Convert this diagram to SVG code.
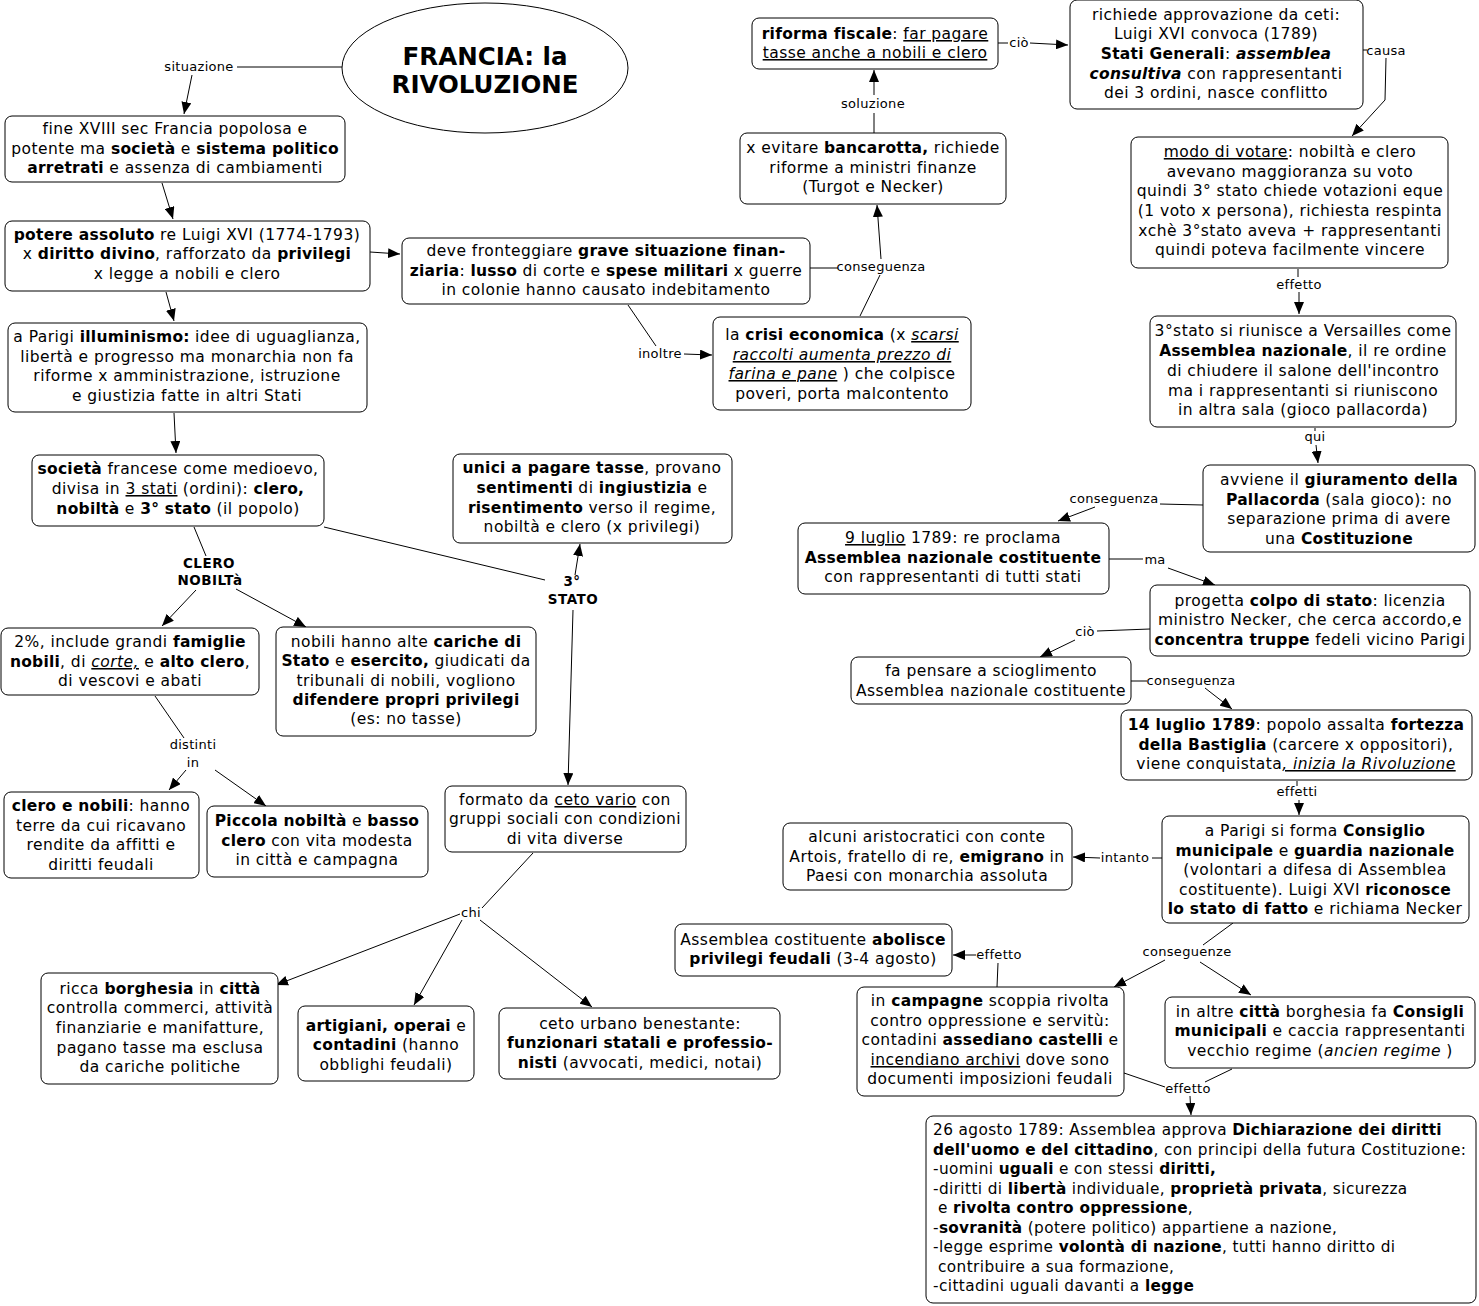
<svg xmlns="http://www.w3.org/2000/svg" width="1479" height="1306" viewBox="0 0 1479 1306">
<style>
.n rect{fill:#fff;stroke:#000;stroke-width:1}
text{font-family:"DejaVu Sans","Liberation Sans",sans-serif;font-size:15.5px;letter-spacing:0.45px;fill:#000}
.t text{text-anchor:middle}
.lt text{text-anchor:start;font-size:15.3px;letter-spacing:0.4px}
.b{font-weight:bold;letter-spacing:0.25px}
.i{font-style:italic}
.u{text-decoration:underline}
.lbl{font-size:13px;letter-spacing:0.3px;text-anchor:middle}
.lb{font-size:13.5px;letter-spacing:0.5px;text-anchor:middle;font-weight:bold}
.c line,.c polyline{stroke:#000;stroke-width:1;fill:none}
.a{marker-end:url(#ar)}
.title{font-size:24.5px;letter-spacing:0px;font-weight:bold;text-anchor:middle}
</style>
<defs>
<marker id="ar" viewBox="0 0 12 10" refX="12" refY="5" markerWidth="12" markerHeight="10" markerUnits="userSpaceOnUse" orient="auto">
<path d="M0,0 L12,5 L0,10 z" fill="#000"/>
</marker>
</defs>

<g class="c" id="connectors">
<line x1="342" y1="67" x2="237" y2="67"/>
<line class="a" x1="192" y1="75" x2="184" y2="114"/>
<line class="a" x1="162" y1="183" x2="173" y2="219"/>
<line class="a" x1="370" y1="252" x2="400" y2="254"/>
<line class="a" x1="166" y1="292" x2="174" y2="321"/>
<line class="a" x1="174" y1="413" x2="176" y2="453"/>
<line x1="628" y1="305" x2="656" y2="346"/>
<line class="a" x1="684" y1="354" x2="712" y2="355"/>
<line x1="810" y1="268" x2="838" y2="268"/>
<line x1="860" y1="316" x2="880" y2="275"/>
<line class="a" x1="881" y1="259" x2="877" y2="205"/>
<line x1="874" y1="133" x2="874" y2="113"/>
<line class="a" x1="874" y1="95" x2="874" y2="70"/>
<line x1="998" y1="43" x2="1008" y2="43"/>
<line class="a" x1="1030" y1="43" x2="1068" y2="45"/>
<line x1="1363" y1="50" x2="1367" y2="50"/>
<polyline class="a" points="1386,58 1385,100 1352,136"/>
<line x1="1298" y1="269" x2="1298" y2="277"/>
<line class="a" x1="1299" y1="292" x2="1299" y2="314"/>
<line x1="1315" y1="428" x2="1315" y2="431"/>
<line class="a" x1="1316" y1="445" x2="1318" y2="463"/>
<line x1="1203" y1="505" x2="1160" y2="504"/>
<line class="a" x1="1095" y1="507" x2="1058" y2="521"/>
<line x1="1109" y1="559" x2="1143" y2="559"/>
<line class="a" x1="1168" y1="568" x2="1215" y2="585"/>
<line x1="1150" y1="629" x2="1097" y2="631"/>
<line class="a" x1="1075" y1="640" x2="1040" y2="657"/>
<line x1="1131" y1="681" x2="1147" y2="681"/>
<line class="a" x1="1205" y1="688" x2="1232" y2="709"/>
<line x1="1297" y1="781" x2="1297" y2="786"/>
<line class="a" x1="1299" y1="800" x2="1299" y2="815"/>
<line x1="1162" y1="858" x2="1152" y2="858"/>
<line class="a" x1="1100" y1="858" x2="1073" y2="857"/>
<line x1="1233" y1="923" x2="1203" y2="945"/>
<line class="a" x1="1165" y1="960" x2="1114" y2="987"/>
<line class="a" x1="1200" y1="962" x2="1251" y2="995"/>
<line x1="997" y1="987" x2="998" y2="963"/>
<line class="a" x1="976" y1="955" x2="953" y2="955"/>
<line x1="1124" y1="1073" x2="1165" y2="1087"/>
<line x1="1232" y1="1069" x2="1205" y2="1082"/>
<line class="a" x1="1190" y1="1096" x2="1191" y2="1115"/>
<line x1="194" y1="527" x2="206" y2="556"/>
<line class="a" x1="196" y1="590" x2="162" y2="626"/>
<line class="a" x1="236" y1="589" x2="306" y2="627"/>
<line x1="324" y1="527" x2="545" y2="580"/>
<line class="a" x1="575" y1="575" x2="580" y2="544"/>
<line class="a" x1="573" y1="610" x2="568" y2="785"/>
<line x1="155" y1="696" x2="184" y2="738"/>
<line class="a" x1="186" y1="770" x2="169" y2="790"/>
<line class="a" x1="215" y1="770" x2="266" y2="806"/>
<line x1="533" y1="853" x2="482" y2="908"/>
<line class="a" x1="460" y1="914" x2="276" y2="985"/>
<line class="a" x1="462" y1="920" x2="414" y2="1005"/>
<line class="a" x1="480" y1="920" x2="592" y2="1007"/>
</g>

<g id="labels">
<text class="lbl" x="199" y="71">situazione</text>
<text class="lbl" x="660" y="358">inoltre</text>
<text class="lbl" x="881" y="271">conseguenza</text>
<text class="lbl" x="873" y="108">soluzione</text>
<text class="lbl" x="1019" y="47">ciò</text>
<text class="lbl" x="1386" y="55">causa</text>
<text class="lbl" x="1299" y="289">effetto</text>
<text class="lbl" x="1315" y="441">qui</text>
<text class="lbl" x="1114" y="503">conseguenza</text>
<text class="lbl" x="1155" y="564">ma</text>
<text class="lbl" x="1085" y="636">ciò</text>
<text class="lbl" x="1191" y="685">conseguenza</text>
<text class="lbl" x="1297" y="796">effetti</text>
<text class="lbl" x="1125" y="862">intanto</text>
<text class="lbl" x="1187" y="956">conseguenze</text>
<text class="lbl" x="999" y="959">effetto</text>
<text class="lbl" x="1188" y="1093">effetto</text>
<text class="lbl" x="471" y="917">chi</text>
<text class="lbl" x="193" y="749">distinti</text>
<text class="lbl" x="193" y="767">in</text>
<text class="lb" x="209" y="568">CLERO</text>
<text class="lb" x="210" y="585">NOBILTà</text>
<text class="lb" x="572" y="586">3°</text>
<text class="lb" x="573" y="604">STATO</text>
</g>

<g id="title">
<ellipse cx="485" cy="68" rx="143" ry="65" fill="#fff" stroke="#000" stroke-width="1"/>
<text class="title" x="485" y="65">FRANCIA: la</text>
<text class="title" x="485" y="93">RIVOLUZIONE</text>
</g>

<g class="n t" id="n-fine">
<rect x="5" y="116" width="340" height="66" rx="7"/>
<text x="175" y="134">fine XVIII sec Francia popolosa e</text>
<text x="175" y="154">potente ma <tspan class="b">società</tspan> e <tspan class="b">sistema politico</tspan></text>
<text x="175" y="173"><tspan class="b">arretrati</tspan> e assenza di cambiamenti</text>
</g>

<g class="n t" id="n-potere">
<rect x="5" y="221" width="365" height="70" rx="7"/>
<text x="187" y="240"><tspan class="b">potere assoluto</tspan> re Luigi XVI (1774-1793)</text>
<text x="187" y="259">x <tspan class="b">diritto divino</tspan>, rafforzato da <tspan class="b">privilegi</tspan></text>
<text x="187" y="279">x legge a nobili e clero</text>
</g>

<g class="n t" id="n-deve">
<rect x="402" y="238" width="408" height="66" rx="7"/>
<text x="606" y="256">deve fronteggiare <tspan class="b">grave situazione finan-</tspan></text>
<text x="606" y="276"><tspan class="b">ziaria</tspan>: <tspan class="b">lusso</tspan> di corte e <tspan class="b">spese militari</tspan> x guerre</text>
<text x="606" y="295">in colonie hanno causato indebitamento</text>
</g>

<g class="n t" id="n-parigi">
<rect x="8" y="323" width="359" height="89" rx="7"/>
<text x="187" y="342">a Parigi <tspan class="b">illuminismo:</tspan> idee di uguaglianza,</text>
<text x="187" y="362">libertà e progresso ma monarchia non fa</text>
<text x="187" y="381">riforme x amministrazione, istruzione</text>
<text x="187" y="401">e giustizia fatte in altri Stati</text>
</g>

<g class="n t" id="n-crisi">
<rect x="713" y="317" width="258" height="93" rx="7"/>
<text x="842" y="340">la <tspan class="b">crisi economica</tspan> (x <tspan class="i u">scarsi</tspan></text>
<text x="842" y="360"><tspan class="i u">raccolti aumenta prezzo di</tspan></text>
<text x="842" y="379"><tspan class="i u">farina e pane</tspan> ) che colpisce</text>
<text x="842" y="399">poveri, porta malcontento</text>
</g>

<g class="n t" id="n-bancarotta">
<rect x="740" y="133" width="266" height="71" rx="7"/>
<text x="873" y="153">x evitare <tspan class="b">bancarotta,</tspan> richiede</text>
<text x="873" y="173">riforme a ministri finanze</text>
<text x="873" y="192">(Turgot e Necker)</text>
</g>

<g class="n t" id="n-riforma">
<rect x="752" y="18" width="246" height="51" rx="7"/>
<text x="875" y="39"><tspan class="b">riforma fiscale</tspan>: <tspan class="u">far pagare </tspan></text>
<text x="875" y="58"><tspan class="u">tasse anche a nobili e clero</tspan></text>
</g>

<g class="n t" id="n-stati">
<rect x="1070" y="0" width="293" height="109" rx="7"/>
<text x="1216" y="20">richiede approvazione da ceti:</text>
<text x="1216" y="39">Luigi XVI convoca (1789)</text>
<text x="1216" y="59"><tspan class="b">Stati Generali</tspan>: <tspan class="b i">assemblea</tspan></text>
<text x="1216" y="79"><tspan class="b i">consultiva</tspan>  con rappresentanti</text>
<text x="1216" y="98">dei 3 ordini, nasce conflitto</text>
</g>

<g class="n t" id="n-votare">
<rect x="1131" y="137" width="317" height="131" rx="7"/>
<text x="1290" y="157"><tspan class="u">modo di votare</tspan>: nobiltà e clero</text>
<text x="1290" y="177">avevano maggioranza su voto</text>
<text x="1290" y="196">quindi 3° stato chiede votazioni eque</text>
<text x="1290" y="216">(1 voto x persona), richiesta respinta</text>
<text x="1290" y="236">xchè  3°stato aveva + rappresentanti</text>
<text x="1290" y="255">quindi poteva facilmente vincere</text>
</g>

<g class="n t" id="n-versailles">
<rect x="1150" y="316" width="306" height="111" rx="7"/>
<text x="1303" y="336">3°stato si riunisce a Versailles come</text>
<text x="1303" y="356"><tspan class="b">Assemblea nazionale</tspan>, il re ordine</text>
<text x="1303" y="376">di chiudere il salone dell'incontro</text>
<text x="1303" y="396">ma i rappresentanti si riuniscono</text>
<text x="1303" y="415">in altra sala (gioco pallacorda)</text>
</g>

<g class="n t" id="n-giuramento">
<rect x="1203" y="465" width="272" height="87" rx="7"/>
<text x="1339" y="485">avviene il <tspan class="b">giuramento della</tspan></text>
<text x="1339" y="505"><tspan class="b">Pallacorda</tspan> (sala gioco): no</text>
<text x="1339" y="524">separazione prima di avere</text>
<text x="1339" y="544">una <tspan class="b">Costituzione</tspan></text>
</g>

<g class="n t" id="n-9luglio">
<rect x="798" y="523" width="311" height="71" rx="7"/>
<text x="953" y="543"><tspan class="u">9 luglio</tspan> 1789: re proclama</text>
<text x="953" y="563"><tspan class="b">Assemblea nazionale costituente</tspan></text>
<text x="953" y="582">con rappresentanti di tutti stati</text>
</g>

<g class="n t" id="n-colpo">
<rect x="1150" y="585" width="320" height="71" rx="7"/>
<text x="1310" y="606">progetta <tspan class="b">colpo di stato</tspan>: licenzia</text>
<text x="1310" y="625">ministro Necker, che cerca accordo,e</text>
<text x="1310" y="645"><tspan class="b">concentra truppe</tspan> fedeli vicino Parigi</text>
</g>

<g class="n t" id="n-scioglimento">
<rect x="851" y="657" width="280" height="47" rx="7"/>
<text x="991" y="676">fa pensare a scioglimento</text>
<text x="991" y="696">Assemblea nazionale costituente</text>
</g>

<g class="n t" id="n-14luglio">
<rect x="1121" y="710" width="351" height="70" rx="7"/>
<text x="1296" y="730"><tspan class="b">14 luglio 1789</tspan>: popolo assalta <tspan class="b">fortezza</tspan></text>
<text x="1296" y="750"><tspan class="b">della Bastiglia</tspan> (carcere x oppositori),</text>
<text x="1296" y="769">viene conquistata<tspan class="i u">, inizia la Rivoluzione</tspan></text>
</g>

<g class="n t" id="n-consiglio">
<rect x="1162" y="816" width="307" height="107" rx="7"/>
<text x="1315" y="836">a Parigi si forma <tspan class="b">Consiglio</tspan></text>
<text x="1315" y="856"><tspan class="b">municipale</tspan> e <tspan class="b">guardia nazionale</tspan></text>
<text x="1315" y="875">(volontari a difesa di Assemblea</text>
<text x="1315" y="895">costituente). Luigi XVI <tspan class="b">riconosce</tspan></text>
<text x="1315" y="914"><tspan class="b">lo stato di fatto</tspan> e richiama Necker</text>
</g>

<g class="n t" id="n-aristocratici">
<rect x="783" y="823" width="289" height="67" rx="7"/>
<text x="927" y="842">alcuni aristocratici con conte</text>
<text x="927" y="862">Artois, fratello di re, <tspan class="b">emigrano</tspan> in</text>
<text x="927" y="881">Paesi con monarchia assoluta</text>
</g>

<g class="n t" id="n-abolisce">
<rect x="675" y="924" width="277" height="52" rx="7"/>
<text x="813" y="945">Assemblea costituente <tspan class="b">abolisce</tspan></text>
<text x="813" y="964"><tspan class="b">privilegi feudali</tspan> (3-4 agosto)</text>
</g>

<g class="n t" id="n-campagne">
<rect x="857" y="987" width="267" height="109" rx="7"/>
<text x="990" y="1006">in <tspan class="b">campagne</tspan> scoppia rivolta</text>
<text x="990" y="1026">contro oppressione e servitù:</text>
<text x="990" y="1045">contadini <tspan class="b">assediano castelli</tspan> e</text>
<text x="990" y="1065"><tspan class="u">incendiano archivi</tspan> dove sono</text>
<text x="990" y="1084">documenti imposizioni feudali</text>
</g>

<g class="n t" id="n-altrecitta">
<rect x="1165" y="997" width="310" height="71" rx="7"/>
<text x="1320" y="1017">in altre <tspan class="b">città</tspan> borghesia fa <tspan class="b">Consigli</tspan></text>
<text x="1320" y="1036"><tspan class="b">municipali</tspan> e caccia rappresentanti</text>
<text x="1320" y="1056">vecchio regime (<tspan class="i">ancien regime</tspan> )</text>
</g>

<g class="n lt" id="n-dichiarazione">
<rect x="926" y="1116" width="550" height="187" rx="7"/>
<text x="933" y="1135">26 agosto 1789: Assemblea approva <tspan class="b">Dichiarazione dei diritti</tspan></text>
<text x="933" y="1155"><tspan class="b">dell'uomo e del cittadino</tspan>, con principi della futura Costituzione:</text>
<text x="933" y="1174">-uomini <tspan class="b">uguali</tspan> e con stessi <tspan class="b">diritti,</tspan></text>
<text x="933" y="1194">-diritti di <tspan class="b">libertà</tspan> individuale, <tspan class="b">proprietà privata</tspan>, sicurezza</text>
<text x="938" y="1213">e <tspan class="b">rivolta contro oppressione</tspan>,</text>
<text x="933" y="1233">-<tspan class="b">sovranità</tspan> (potere politico) appartiene a nazione,</text>
<text x="933" y="1252">-legge esprime <tspan class="b">volontà di nazione</tspan>, tutti hanno diritto di</text>
<text x="938" y="1272">contribuire a sua formazione,</text>
<text x="933" y="1291">-cittadini uguali davanti a <tspan class="b">legge</tspan></text>
</g>

<g class="n t" id="n-societa">
<rect x="32" y="455" width="292" height="71" rx="7"/>
<text x="178" y="474"><tspan class="b">società</tspan> francese come medioevo,</text>
<text x="178" y="494">divisa in <tspan class="u">3 stati</tspan> (ordini): <tspan class="b">clero,</tspan></text>
<text x="178" y="514"><tspan class="b">nobiltà</tspan> e <tspan class="b">3° stato</tspan> (il popolo)</text>
</g>

<g class="n t" id="n-unici">
<rect x="453" y="454" width="279" height="89" rx="7"/>
<text x="592" y="473"><tspan class="b">unici a pagare tasse</tspan>, provano</text>
<text x="592" y="493"><tspan class="b">sentimenti</tspan> di <tspan class="b">ingiustizia</tspan> e</text>
<text x="592" y="513"><tspan class="b">risentimento</tspan> verso il regime,</text>
<text x="592" y="532">nobiltà e clero (x privilegi)</text>
</g>

<g class="n t" id="n-famiglie">
<rect x="1" y="628" width="258" height="67" rx="7"/>
<text x="130" y="647">2%, include grandi <tspan class="b">famiglie</tspan></text>
<text x="130" y="667"><tspan class="b">nobili</tspan>, di <tspan class="i u">corte,</tspan>  e <tspan class="b">alto clero</tspan>,</text>
<text x="130" y="686">di vescovi e abati</text>
</g>

<g class="n t" id="n-cariche">
<rect x="276" y="627" width="260" height="109" rx="7"/>
<text x="406" y="647">nobili hanno alte <tspan class="b">cariche di</tspan></text>
<text x="406" y="666"><tspan class="b">Stato</tspan> e <tspan class="b">esercito,</tspan> giudicati da</text>
<text x="406" y="686">tribunali di nobili, vogliono</text>
<text x="406" y="705"><tspan class="b">difendere propri privilegi</tspan></text>
<text x="406" y="724">(es: no tasse)</text>
</g>

<g class="n t" id="n-terre">
<rect x="4" y="792" width="195" height="86" rx="7"/>
<text x="101" y="811"><tspan class="b">clero e nobili</tspan>: hanno</text>
<text x="101" y="831">terre da cui ricavano</text>
<text x="101" y="850">rendite da affitti e</text>
<text x="101" y="870">diritti feudali</text>
</g>

<g class="n t" id="n-piccola">
<rect x="207" y="806" width="221" height="71" rx="7"/>
<text x="317" y="826"><tspan class="b">Piccola nobiltà</tspan> e <tspan class="b">basso</tspan></text>
<text x="317" y="846"><tspan class="b">clero</tspan> con vita modesta</text>
<text x="317" y="865">in città e campagna</text>
</g>

<g class="n t" id="n-ceto">
<rect x="445" y="786" width="241" height="66" rx="7"/>
<text x="565" y="805">formato da <tspan class="u">ceto vario</tspan> con</text>
<text x="565" y="824">gruppi sociali con condizioni</text>
<text x="565" y="844">di vita diverse</text>
</g>

<g class="n t" id="n-borghesia">
<rect x="41" y="973" width="237" height="111" rx="7"/>
<text x="160" y="994">ricca <tspan class="b">borghesia</tspan> in <tspan class="b">città</tspan></text>
<text x="160" y="1013">controlla commerci, attività</text>
<text x="160" y="1033">finanziarie e manifatture,</text>
<text x="160" y="1053">pagano tasse ma esclusa</text>
<text x="160" y="1072">da cariche politiche</text>
</g>

<g class="n t" id="n-artigiani">
<rect x="298" y="1006" width="176" height="75" rx="7"/>
<text x="386" y="1031"><tspan class="b">artigiani, operai</tspan> e</text>
<text x="386" y="1050"><tspan class="b">contadini</tspan> (hanno</text>
<text x="386" y="1070">obblighi feudali)</text>
</g>

<g class="n t" id="n-urbano">
<rect x="499" y="1008" width="281" height="71" rx="7"/>
<text x="640" y="1029">ceto urbano benestante:</text>
<text x="640" y="1048"><tspan class="b">funzionari statali e professio-</tspan></text>
<text x="640" y="1068"><tspan class="b">nisti</tspan> (avvocati, medici, notai)</text>
</g>
</svg>
